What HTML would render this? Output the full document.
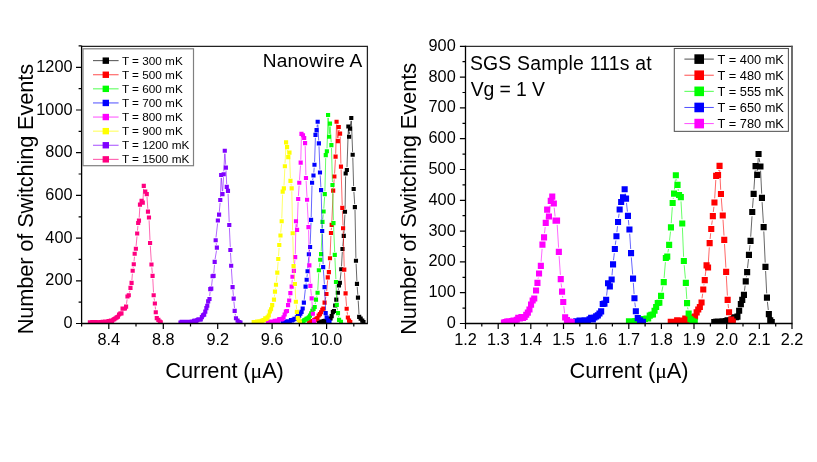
<!DOCTYPE html>
<html><head><meta charset="utf-8"><title>Switching current distributions</title>
<style>
html,body{margin:0;padding:0;background:#fff;}
body{width:817px;height:462px;position:relative;overflow:hidden;font-family:"Liberation Sans",sans-serif;}
</style></head><body>
<svg width="817" height="462" viewBox="0 0 817 462" style="position:absolute;left:0;top:0;will-change:transform;font-family:'Liberation Sans',sans-serif">
<rect width="817" height="462" fill="#fff"/>
<clipPath id="cl"><rect x="81.6" y="46.3" width="285.79999999999995" height="277.7"/></clipPath>
<clipPath id="cr"><rect x="465.5" y="46.3" width="326.5" height="277.7"/></clipPath>
<g clip-path="url(#cl)">
<path d="M337.0 296.8L337.2 295.6M338.3 289.9L338.6 288.3M340.2 279.9L341.0 272.2M341.5 266.4L342.3 251.9M342.8 246.1L343.5 238.8M343.9 233.0L344.9 214.7M345.1 208.9L345.6 176.4M347.0 167.1L348.3 129.4M348.6 129.4L348.9 133.9M349.5 133.9L349.7 131.6M350.4 125.8L351.0 120.9M351.4 120.9L352.6 151.9M352.8 157.7L353.6 186.1M353.9 191.9L354.7 204.2M355.0 210.0L355.9 257.9M356.1 263.7L356.9 281.0M357.2 286.8L357.8 294.8M358.2 300.6L359.0 314.0" fill="none" stroke="#000000" stroke-width="0.6"/>
<path d="M317.0 320.3h4.15v4.15h-4.15zM318.2 320.3h4.15v4.15h-4.15zM319.3 319.6h4.15v4.15h-4.15zM320.5 319.4h4.15v4.15h-4.15zM321.6 319.0h4.15v4.15h-4.15zM322.8 318.8h4.15v4.15h-4.15zM323.9 318.8h4.15v4.15h-4.15zM325.1 317.9h4.15v4.15h-4.15zM326.2 317.7h4.15v4.15h-4.15zM327.3 316.8h4.15v4.15h-4.15zM328.5 316.4h4.15v4.15h-4.15zM329.6 314.1h4.15v4.15h-4.15zM330.8 310.0h4.15v4.15h-4.15zM331.9 308.9h4.15v4.15h-4.15zM333.1 303.4h4.15v4.15h-4.15zM334.2 297.5h4.15v4.15h-4.15zM335.8 290.7h4.15v4.15h-4.15zM336.9 283.3h4.15v4.15h-4.15zM337.8 280.7h4.15v4.15h-4.15zM339.2 267.2h4.15v4.15h-4.15zM340.4 246.9h4.15v4.15h-4.15zM341.7 233.8h4.15v4.15h-4.15zM342.9 209.7h4.15v4.15h-4.15zM343.6 171.4h4.15v4.15h-4.15zM344.8 167.9h4.15v4.15h-4.15zM346.3 124.4h4.15v4.15h-4.15zM347.0 134.7h4.15v4.15h-4.15zM348.0 126.6h4.15v4.15h-4.15zM349.2 115.9h4.15v4.15h-4.15zM350.6 152.7h4.15v4.15h-4.15zM351.6 186.9h4.15v4.15h-4.15zM352.8 205.0h4.15v4.15h-4.15zM353.9 258.7h4.15v4.15h-4.15zM354.9 281.8h4.15v4.15h-4.15zM355.9 295.6h4.15v4.15h-4.15zM357.1 314.8h4.15v4.15h-4.15zM358.6 316.6h4.15v4.15h-4.15zM360.2 318.5h4.15v4.15h-4.15zM361.4 319.9h4.15v4.15h-4.15z" fill="#000000"/>
<path d="M325.2 299.9L325.9 296.8M326.7 291.1L327.6 280.3M329.1 269.3L329.8 261.2M330.1 255.4L330.9 235.9M331.2 230.1L331.5 227.8M331.8 222.0L333.1 193.5M333.4 187.7L334.2 179.4M334.6 173.6L335.4 159.6M335.7 153.8L336.5 124.7M336.8 124.7L337.7 138.3M338.1 138.3L338.6 129.9M339.4 129.8L339.5 130.8M340.2 136.5L340.9 163.7M341.1 169.5L342.2 205.0M342.4 210.8L343.0 225.4M343.2 231.2L344.2 266.7M344.5 272.5L345.4 290.5M345.8 296.3L346.5 305.9M347.1 311.7L347.5 314.6" fill="none" stroke="#ff0000" stroke-width="0.6"/>
<path d="M307.1 320.7h4.15v4.15h-4.15zM308.3 319.6h4.15v4.15h-4.15zM309.5 319.2h4.15v4.15h-4.15zM310.7 319.0h4.15v4.15h-4.15zM311.9 318.3h4.15v4.15h-4.15zM313.0 318.1h4.15v4.15h-4.15zM314.2 316.8h4.15v4.15h-4.15zM315.4 316.0h4.15v4.15h-4.15zM316.6 313.4h4.15v4.15h-4.15zM317.8 312.1h4.15v4.15h-4.15zM319.0 310.2h4.15v4.15h-4.15zM320.2 307.7h4.15v4.15h-4.15zM321.3 306.6h4.15v4.15h-4.15zM322.5 300.6h4.15v4.15h-4.15zM324.4 291.9h4.15v4.15h-4.15zM325.7 275.3h4.15v4.15h-4.15zM326.8 270.1h4.15v4.15h-4.15zM327.9 256.2h4.15v4.15h-4.15zM328.9 230.9h4.15v4.15h-4.15zM329.6 222.8h4.15v4.15h-4.15zM331.1 188.5h4.15v4.15h-4.15zM332.3 174.4h4.15v4.15h-4.15zM333.5 154.6h4.15v4.15h-4.15zM334.5 119.7h4.15v4.15h-4.15zM335.8 139.1h4.15v4.15h-4.15zM336.7 124.9h4.15v4.15h-4.15zM338.0 131.5h4.15v4.15h-4.15zM338.9 164.5h4.15v4.15h-4.15zM340.2 205.8h4.15v4.15h-4.15zM341.0 226.2h4.15v4.15h-4.15zM342.2 267.5h4.15v4.15h-4.15zM343.5 291.3h4.15v4.15h-4.15zM344.6 306.7h4.15v4.15h-4.15zM345.8 315.4h4.15v4.15h-4.15zM347.0 318.5h4.15v4.15h-4.15zM348.2 319.9h4.15v4.15h-4.15z" fill="#ff0000"/>
<path d="M315.2 304.1L315.5 302.5M316.7 296.8L316.9 295.6M317.8 289.9L318.7 273.2M319.3 267.4L319.9 262.7M321.2 251.3L322.4 224.8M322.8 219.0L323.3 214.4M323.8 208.6L324.6 197.1M324.9 191.3L325.7 158.1M327.0 148.4L328.0 117.9M328.2 117.9L329.0 133.9M329.3 133.9L329.8 126.5M330.2 126.5L331.2 142.3M331.5 148.1L332.4 182.1M332.6 187.9L333.4 220.2M333.6 226.0L334.7 252.0M334.9 257.8L335.9 279.1M336.1 284.9L336.7 302.0M337.2 307.8L337.6 310.3M338.5 316.1L338.6 317.0" fill="none" stroke="#00ff00" stroke-width="0.6"/>
<path d="M299.7 319.8h4.15v4.15h-4.15zM300.9 319.6h4.15v4.15h-4.15zM302.1 318.3h4.15v4.15h-4.15zM303.2 317.7h4.15v4.15h-4.15zM304.4 316.8h4.15v4.15h-4.15zM305.6 316.2h4.15v4.15h-4.15zM306.8 315.3h4.15v4.15h-4.15zM307.9 313.6h4.15v4.15h-4.15zM309.1 311.3h4.15v4.15h-4.15zM310.3 308.7h4.15v4.15h-4.15zM311.5 306.8h4.15v4.15h-4.15zM312.6 304.9h4.15v4.15h-4.15zM313.9 297.5h4.15v4.15h-4.15zM315.5 290.7h4.15v4.15h-4.15zM316.8 268.2h4.15v4.15h-4.15zM318.2 257.7h4.15v4.15h-4.15zM319.0 252.1h4.15v4.15h-4.15zM320.4 219.8h4.15v4.15h-4.15zM321.5 209.4h4.15v4.15h-4.15zM322.7 192.1h4.15v4.15h-4.15zM323.7 153.1h4.15v4.15h-4.15zM324.8 149.2h4.15v4.15h-4.15zM326.0 112.9h4.15v4.15h-4.15zM327.0 134.7h4.15v4.15h-4.15zM327.9 121.5h4.15v4.15h-4.15zM329.3 143.1h4.15v4.15h-4.15zM330.4 182.9h4.15v4.15h-4.15zM331.4 221.0h4.15v4.15h-4.15zM332.7 252.8h4.15v4.15h-4.15zM333.9 279.9h4.15v4.15h-4.15zM334.7 302.8h4.15v4.15h-4.15zM335.9 311.1h4.15v4.15h-4.15zM337.0 317.8h4.15v4.15h-4.15zM338.9 319.7h4.15v4.15h-4.15z" fill="#00ff00"/>
<path d="M304.2 299.8L305.3 289.5M306.1 283.7L306.2 282.7M307.0 276.9L307.3 274.2M307.8 268.4L308.7 257.2M309.4 251.4L309.6 249.9M310.2 244.1L311.0 222.8M311.2 217.0L312.0 185.7M312.6 180.0L313.0 178.3M313.8 172.6L314.2 167.7M314.6 161.9L315.4 137.8M317.0 127.3L317.3 124.7M317.9 124.7L318.7 140.5M319.0 146.3L319.9 169.6M320.2 175.4L320.9 187.3M321.2 193.1L322.1 228.1M322.3 233.9L323.1 264.2M323.4 270.0L324.4 284.3M324.7 290.1L325.6 310.3" fill="none" stroke="#0000ff" stroke-width="0.6"/>
<path d="M280.6 320.7h4.15v4.15h-4.15zM281.8 320.0h4.15v4.15h-4.15zM283.0 320.0h4.15v4.15h-4.15zM284.2 320.0h4.15v4.15h-4.15zM285.3 319.2h4.15v4.15h-4.15zM286.5 319.4h4.15v4.15h-4.15zM287.7 319.4h4.15v4.15h-4.15zM288.9 317.9h4.15v4.15h-4.15zM290.0 318.3h4.15v4.15h-4.15zM291.2 317.7h4.15v4.15h-4.15zM292.4 316.8h4.15v4.15h-4.15zM293.6 316.8h4.15v4.15h-4.15zM294.8 315.3h4.15v4.15h-4.15zM295.9 313.2h4.15v4.15h-4.15zM297.1 313.6h4.15v4.15h-4.15zM298.3 311.5h4.15v4.15h-4.15zM299.5 309.8h4.15v4.15h-4.15zM300.6 306.4h4.15v4.15h-4.15zM301.8 300.6h4.15v4.15h-4.15zM303.5 284.5h4.15v4.15h-4.15zM304.6 277.7h4.15v4.15h-4.15zM305.5 269.2h4.15v4.15h-4.15zM306.8 252.2h4.15v4.15h-4.15zM308.0 244.9h4.15v4.15h-4.15zM309.0 217.8h4.15v4.15h-4.15zM310.0 180.7h4.15v4.15h-4.15zM311.4 173.4h4.15v4.15h-4.15zM312.4 162.7h4.15v4.15h-4.15zM313.4 132.8h4.15v4.15h-4.15zM314.5 128.1h4.15v4.15h-4.15zM315.6 119.7h4.15v4.15h-4.15zM316.8 141.3h4.15v4.15h-4.15zM317.9 170.4h4.15v4.15h-4.15zM319.0 188.1h4.15v4.15h-4.15zM320.1 228.9h4.15v4.15h-4.15zM321.1 265.0h4.15v4.15h-4.15zM322.5 285.1h4.15v4.15h-4.15zM323.6 311.1h4.15v4.15h-4.15zM324.6 315.4h4.15v4.15h-4.15zM326.2 318.5h4.15v4.15h-4.15zM327.4 319.9h4.15v4.15h-4.15z" fill="#0000ff"/>
<path d="M289.7 297.6L289.9 296.0M291.0 290.3L291.1 289.4M291.9 283.7L292.3 279.7M294.2 268.0L294.9 260.0M295.3 254.2L295.9 224.2M296.4 224.2L296.7 227.0M297.2 227.0L298.1 201.9M298.4 196.1L299.1 185.7M299.5 179.9L300.5 165.6M300.8 159.8L301.4 136.8M305.2 146.1L305.9 175.1M306.1 180.9L307.0 196.9M307.2 202.7L308.4 224.3M308.6 230.1L309.3 262.5M309.5 268.3L310.3 283.0M310.7 288.8L311.4 295.5M311.9 301.3L312.7 310.9M313.4 316.7L313.6 318.3" fill="none" stroke="#ff00ff" stroke-width="0.6"/>
<path d="M265.8 320.5h4.15v4.15h-4.15zM266.9 320.3h4.15v4.15h-4.15zM268.1 319.6h4.15v4.15h-4.15zM269.2 320.0h4.15v4.15h-4.15zM270.3 319.4h4.15v4.15h-4.15zM271.4 319.4h4.15v4.15h-4.15zM272.6 318.8h4.15v4.15h-4.15zM273.7 318.8h4.15v4.15h-4.15zM274.8 318.5h4.15v4.15h-4.15zM275.9 319.0h4.15v4.15h-4.15zM277.0 317.3h4.15v4.15h-4.15zM278.2 317.1h4.15v4.15h-4.15zM279.3 317.3h4.15v4.15h-4.15zM280.4 316.8h4.15v4.15h-4.15zM281.5 315.3h4.15v4.15h-4.15zM282.6 312.4h4.15v4.15h-4.15zM283.8 309.4h4.15v4.15h-4.15zM284.9 308.9h4.15v4.15h-4.15zM286.0 303.0h4.15v4.15h-4.15zM287.1 298.4h4.15v4.15h-4.15zM288.3 291.0h4.15v4.15h-4.15zM289.6 284.5h4.15v4.15h-4.15zM290.4 274.7h4.15v4.15h-4.15zM291.8 268.8h4.15v4.15h-4.15zM293.1 255.0h4.15v4.15h-4.15zM293.9 219.2h4.15v4.15h-4.15zM295.0 227.8h4.15v4.15h-4.15zM296.1 196.9h4.15v4.15h-4.15zM297.2 180.7h4.15v4.15h-4.15zM298.6 160.6h4.15v4.15h-4.15zM299.4 131.8h4.15v4.15h-4.15zM300.9 133.2h4.15v4.15h-4.15zM302.1 135.9h4.15v4.15h-4.15zM303.0 141.1h4.15v4.15h-4.15zM303.9 175.9h4.15v4.15h-4.15zM305.0 197.7h4.15v4.15h-4.15zM306.4 225.1h4.15v4.15h-4.15zM307.3 263.3h4.15v4.15h-4.15zM308.3 283.8h4.15v4.15h-4.15zM309.6 296.3h4.15v4.15h-4.15zM310.8 311.7h4.15v4.15h-4.15zM312.0 319.1h4.15v4.15h-4.15z" fill="#ff00ff"/>
<path d="M274.4 296.7L274.6 294.5M275.4 288.7L275.6 287.7M276.3 281.9L277.0 275.6M277.5 269.8L278.1 261.9M278.5 256.1L279.1 247.9M279.7 242.1L280.1 238.4M280.7 232.6L281.5 224.2M281.8 218.4L282.6 194.6M284.0 185.5L284.8 169.2M285.0 163.4L286.0 145.3M287.4 150.0L288.0 154.2M289.6 155.6L290.4 178.0M291.0 183.8L291.2 185.5M291.8 191.3L292.6 230.4M292.8 236.2L293.5 263.2M293.8 269.0L294.7 281.1M295.1 286.9L295.7 298.9M296.2 304.7L296.6 309.0M297.3 314.8L297.4 315.2" fill="none" stroke="#ffff00" stroke-width="0.6"/>
<path d="M251.6 320.0h4.15v4.15h-4.15zM252.8 320.3h4.15v4.15h-4.15zM253.9 320.0h4.15v4.15h-4.15zM255.1 319.6h4.15v4.15h-4.15zM256.2 319.4h4.15v4.15h-4.15zM257.4 319.2h4.15v4.15h-4.15zM258.6 319.4h4.15v4.15h-4.15zM259.7 318.8h4.15v4.15h-4.15zM260.9 318.3h4.15v4.15h-4.15zM262.0 317.9h4.15v4.15h-4.15zM263.2 316.2h4.15v4.15h-4.15zM264.3 316.8h4.15v4.15h-4.15zM265.5 315.3h4.15v4.15h-4.15zM266.7 313.4h4.15v4.15h-4.15zM267.8 309.4h4.15v4.15h-4.15zM269.0 307.2h4.15v4.15h-4.15zM270.1 303.0h4.15v4.15h-4.15zM271.9 297.5h4.15v4.15h-4.15zM272.9 289.5h4.15v4.15h-4.15zM273.9 282.7h4.15v4.15h-4.15zM275.2 270.6h4.15v4.15h-4.15zM276.2 256.9h4.15v4.15h-4.15zM277.2 242.9h4.15v4.15h-4.15zM278.4 233.4h4.15v4.15h-4.15zM279.6 219.2h4.15v4.15h-4.15zM280.6 189.6h4.15v4.15h-4.15zM281.8 186.3h4.15v4.15h-4.15zM282.8 164.2h4.15v4.15h-4.15zM284.0 140.3h4.15v4.15h-4.15zM285.0 145.0h4.15v4.15h-4.15zM286.2 155.0h4.15v4.15h-4.15zM287.4 150.6h4.15v4.15h-4.15zM288.4 178.8h4.15v4.15h-4.15zM289.6 186.3h4.15v4.15h-4.15zM290.6 231.2h4.15v4.15h-4.15zM291.5 264.0h4.15v4.15h-4.15zM292.8 281.9h4.15v4.15h-4.15zM293.8 299.7h4.15v4.15h-4.15zM294.8 309.8h4.15v4.15h-4.15zM295.7 316.0h4.15v4.15h-4.15zM296.6 317.8h4.15v4.15h-4.15zM297.8 320.3h4.15v4.15h-4.15z" fill="#ffff00"/>
<path d="M209.7 296.1L210.1 292.0M211.6 285.8L212.3 279.2M213.8 273.0L214.5 264.8M215.1 259.0L216.5 250.6M216.4 244.8L216.2 243.2M216.0 237.4L217.6 223.4M219.3 211.8L220.1 202.9M220.4 197.1L221.1 177.9M221.4 177.9L222.3 191.2M222.7 191.2L223.5 177.2M223.8 171.4L224.7 153.7M225.0 153.7L225.7 164.7M226.0 170.5L226.7 184.0M228.1 193.8L229.2 222.1M229.4 227.9L230.3 247.1M230.5 252.9L231.1 262.9M231.4 268.7L232.4 284.2M232.9 290.0L233.4 295.8M233.9 301.6L234.5 308.0M235.2 313.8L235.5 315.4" fill="none" stroke="#8000ff" stroke-width="0.6"/>
<path d="M178.4 320.5h4.15v4.15h-4.15zM179.6 319.8h4.15v4.15h-4.15zM180.7 320.3h4.15v4.15h-4.15zM181.8 320.5h4.15v4.15h-4.15zM182.9 319.8h4.15v4.15h-4.15zM184.1 320.5h4.15v4.15h-4.15zM185.2 320.0h4.15v4.15h-4.15zM186.3 319.8h4.15v4.15h-4.15zM187.4 319.8h4.15v4.15h-4.15zM188.6 319.8h4.15v4.15h-4.15zM189.7 319.6h4.15v4.15h-4.15zM190.8 319.6h4.15v4.15h-4.15zM191.9 318.8h4.15v4.15h-4.15zM193.1 318.5h4.15v4.15h-4.15zM194.2 318.8h4.15v4.15h-4.15zM195.3 318.1h4.15v4.15h-4.15zM196.4 317.3h4.15v4.15h-4.15zM197.6 317.5h4.15v4.15h-4.15zM198.7 317.3h4.15v4.15h-4.15zM199.8 315.1h4.15v4.15h-4.15zM200.9 313.2h4.15v4.15h-4.15zM202.1 312.6h4.15v4.15h-4.15zM203.2 309.6h4.15v4.15h-4.15zM204.3 306.1h4.15v4.15h-4.15zM205.2 303.7h4.15v4.15h-4.15zM206.1 299.3h4.15v4.15h-4.15zM207.4 296.9h4.15v4.15h-4.15zM208.2 287.0h4.15v4.15h-4.15zM209.2 286.6h4.15v4.15h-4.15zM210.5 274.2h4.15v4.15h-4.15zM211.5 273.8h4.15v4.15h-4.15zM212.6 259.8h4.15v4.15h-4.15zM214.8 245.6h4.15v4.15h-4.15zM213.6 238.2h4.15v4.15h-4.15zM215.8 218.4h4.15v4.15h-4.15zM217.0 212.6h4.15v4.15h-4.15zM218.2 197.9h4.15v4.15h-4.15zM219.1 172.9h4.15v4.15h-4.15zM220.4 192.0h4.15v4.15h-4.15zM221.6 172.2h4.15v4.15h-4.15zM222.7 148.7h4.15v4.15h-4.15zM223.8 165.5h4.15v4.15h-4.15zM224.7 184.8h4.15v4.15h-4.15zM225.9 188.8h4.15v4.15h-4.15zM227.2 222.9h4.15v4.15h-4.15zM228.3 247.9h4.15v4.15h-4.15zM229.1 263.7h4.15v4.15h-4.15zM230.5 285.0h4.15v4.15h-4.15zM231.6 296.6h4.15v4.15h-4.15zM232.6 308.8h4.15v4.15h-4.15zM233.9 316.2h4.15v4.15h-4.15zM235.5 318.5h4.15v4.15h-4.15zM237.2 319.9h4.15v4.15h-4.15zM238.4 320.4h4.15v4.15h-4.15z" fill="#8000ff"/>
<path d="M126.5 303.8L127.1 299.4M129.4 292.5L129.9 290.7M131.9 280.0L132.4 273.7M133.2 267.9L133.3 267.2M134.0 261.4L134.5 256.7M136.1 245.9L137.0 236.4M137.5 230.6L137.9 225.9M139.2 217.7L139.8 207.5M143.0 199.8L143.6 188.8M147.0 197.0L147.8 208.8M149.1 220.4L150.0 240.1M150.3 245.9L151.3 261.6M151.8 267.4L152.3 273.0M152.8 278.8L153.5 292.4M154.1 298.2L154.5 300.6M155.2 306.4L155.5 309.4" fill="none" stroke="#ff0080" stroke-width="0.6"/>
<path d="M87.8 320.3h4.15v4.15h-4.15zM89.0 320.7h4.15v4.15h-4.15zM90.2 320.0h4.15v4.15h-4.15zM91.3 320.5h4.15v4.15h-4.15zM92.5 320.0h4.15v4.15h-4.15zM93.7 320.0h4.15v4.15h-4.15zM94.8 320.5h4.15v4.15h-4.15zM96.0 320.5h4.15v4.15h-4.15zM97.2 320.3h4.15v4.15h-4.15zM98.3 320.0h4.15v4.15h-4.15zM99.5 320.0h4.15v4.15h-4.15zM100.7 319.8h4.15v4.15h-4.15zM101.8 320.0h4.15v4.15h-4.15zM103.0 319.6h4.15v4.15h-4.15zM104.2 319.4h4.15v4.15h-4.15zM105.3 319.4h4.15v4.15h-4.15zM106.5 319.0h4.15v4.15h-4.15zM107.7 319.0h4.15v4.15h-4.15zM108.8 318.5h4.15v4.15h-4.15zM110.0 318.8h4.15v4.15h-4.15zM111.2 317.7h4.15v4.15h-4.15zM112.3 317.1h4.15v4.15h-4.15zM113.5 316.2h4.15v4.15h-4.15zM114.7 315.3h4.15v4.15h-4.15zM115.9 314.7h4.15v4.15h-4.15zM117.0 312.4h4.15v4.15h-4.15zM118.2 311.5h4.15v4.15h-4.15zM119.4 311.3h4.15v4.15h-4.15zM120.5 306.6h4.15v4.15h-4.15zM121.7 306.6h4.15v4.15h-4.15zM122.9 306.4h4.15v4.15h-4.15zM124.0 304.6h4.15v4.15h-4.15zM125.4 294.4h4.15v4.15h-4.15zM126.7 293.2h4.15v4.15h-4.15zM128.4 285.8h4.15v4.15h-4.15zM129.5 280.8h4.15v4.15h-4.15zM130.6 268.7h4.15v4.15h-4.15zM131.7 262.2h4.15v4.15h-4.15zM132.6 251.7h4.15v4.15h-4.15zM133.8 246.7h4.15v4.15h-4.15zM135.1 231.4h4.15v4.15h-4.15zM136.1 220.9h4.15v4.15h-4.15zM136.9 218.5h4.15v4.15h-4.15zM137.9 202.5h4.15v4.15h-4.15zM139.5 198.8h4.15v4.15h-4.15zM140.7 200.6h4.15v4.15h-4.15zM141.7 183.8h4.15v4.15h-4.15zM143.2 189.5h4.15v4.15h-4.15zM144.7 192.0h4.15v4.15h-4.15zM145.9 209.6h4.15v4.15h-4.15zM146.9 215.4h4.15v4.15h-4.15zM148.0 240.9h4.15v4.15h-4.15zM149.4 262.4h4.15v4.15h-4.15zM150.5 273.8h4.15v4.15h-4.15zM151.6 293.2h4.15v4.15h-4.15zM152.8 301.4h4.15v4.15h-4.15zM153.7 310.2h4.15v4.15h-4.15zM154.7 316.0h4.15v4.15h-4.15zM156.3 317.8h4.15v4.15h-4.15zM157.7 319.4h4.15v4.15h-4.15zM158.7 320.3h4.15v4.15h-4.15z" fill="#ff0080"/>
</g>
<g clip-path="url(#cr)">
<path d="M744.5 290.7L745.1 285.6M746.3 277.2L746.5 276.4M747.5 268.0L748.5 259.1M749.4 250.7L750.0 245.1M750.7 236.7L752.0 216.3M752.5 207.9L753.3 198.0M753.9 189.6L755.2 170.4M756.3 170.3L756.4 170.8M757.5 170.7L758.2 158.2M759.1 158.2L759.8 162.3M760.6 170.7L761.7 193.7M762.1 202.1L763.4 223.0M763.8 231.4L765.2 262.6M765.6 271.0L766.7 293.4M767.4 301.8L768.3 310.0" fill="none" stroke="#000000" stroke-width="0.6"/>
<path d="M711.2 319.1h6.1v6.1h-6.1zM712.9 318.8h6.1v6.1h-6.1zM714.6 318.5h6.1v6.1h-6.1zM716.2 318.8h6.1v6.1h-6.1zM717.9 318.5h6.1v6.1h-6.1zM719.5 318.2h6.1v6.1h-6.1zM721.2 319.1h6.1v6.1h-6.1zM722.8 317.9h6.1v6.1h-6.1zM724.5 317.3h6.1v6.1h-6.1zM726.2 317.3h6.1v6.1h-6.1zM727.8 317.0h6.1v6.1h-6.1zM729.5 316.3h6.1v6.1h-6.1zM731.1 314.2h6.1v6.1h-6.1zM732.8 314.2h6.1v6.1h-6.1zM734.4 313.6h6.1v6.1h-6.1zM736.1 307.7h6.1v6.1h-6.1zM737.8 301.1h6.1v6.1h-6.1zM739.2 296.8h6.1v6.1h-6.1zM740.9 291.8h6.1v6.1h-6.1zM742.7 278.3h6.1v6.1h-6.1zM744.1 269.1h6.1v6.1h-6.1zM745.9 251.8h6.1v6.1h-6.1zM747.5 237.8h6.1v6.1h-6.1zM749.2 209.0h6.1v6.1h-6.1zM750.6 190.8h6.1v6.1h-6.1zM752.5 163.1h6.1v6.1h-6.1zM754.2 171.8h6.1v6.1h-6.1zM755.5 150.9h6.1v6.1h-6.1zM757.4 163.4h6.1v6.1h-6.1zM758.9 194.8h6.1v6.1h-6.1zM760.6 224.1h6.1v6.1h-6.1zM762.4 263.8h6.1v6.1h-6.1zM763.9 294.6h6.1v6.1h-6.1zM765.8 311.1h6.1v6.1h-6.1zM767.2 317.3h6.1v6.1h-6.1zM768.7 319.1h6.1v6.1h-6.1z" fill="#000000"/>
<path d="M702.0 298.3L702.7 293.7M703.9 285.4L704.0 284.3M705.2 276.0L706.0 269.6M708.3 263.3L709.3 247.4M710.1 239.0L710.7 233.2M711.7 224.8L712.3 220.4M713.3 212.0L713.9 206.8M714.7 198.4L715.8 180.0M718.7 171.0L718.8 169.9M719.7 170.0L720.7 189.8M721.3 198.2L722.3 211.3M723.0 219.7L724.0 235.6M724.5 244.0L725.9 267.6M726.3 276.0L727.4 295.6M728.1 304.0L728.5 308.1" fill="none" stroke="#ff0000" stroke-width="0.6"/>
<path d="M667.7 318.8h6.1v6.1h-6.1zM669.3 318.8h6.1v6.1h-6.1zM670.9 318.8h6.1v6.1h-6.1zM672.5 318.8h6.1v6.1h-6.1zM674.1 317.3h6.1v6.1h-6.1zM675.8 317.6h6.1v6.1h-6.1zM677.4 317.6h6.1v6.1h-6.1zM679.0 317.6h6.1v6.1h-6.1zM680.6 317.6h6.1v6.1h-6.1zM682.2 315.4h6.1v6.1h-6.1zM683.9 317.0h6.1v6.1h-6.1zM685.5 315.4h6.1v6.1h-6.1zM687.1 316.0h6.1v6.1h-6.1zM688.7 314.2h6.1v6.1h-6.1zM690.3 314.8h6.1v6.1h-6.1zM692.0 313.6h6.1v6.1h-6.1zM693.6 309.3h6.1v6.1h-6.1zM695.2 306.5h6.1v6.1h-6.1zM696.8 304.0h6.1v6.1h-6.1zM698.5 299.4h6.1v6.1h-6.1zM700.2 286.4h6.1v6.1h-6.1zM701.7 277.1h6.1v6.1h-6.1zM703.5 262.3h6.1v6.1h-6.1zM705.0 264.4h6.1v6.1h-6.1zM706.6 240.1h6.1v6.1h-6.1zM708.2 225.9h6.1v6.1h-6.1zM709.8 213.1h6.1v6.1h-6.1zM711.4 199.5h6.1v6.1h-6.1zM713.1 172.8h6.1v6.1h-6.1zM715.0 172.0h6.1v6.1h-6.1zM716.5 162.8h6.1v6.1h-6.1zM717.9 190.9h6.1v6.1h-6.1zM719.7 212.4h6.1v6.1h-6.1zM721.2 236.8h6.1v6.1h-6.1zM723.1 268.8h6.1v6.1h-6.1zM724.6 296.8h6.1v6.1h-6.1zM726.0 309.2h6.1v6.1h-6.1zM728.2 316.6h6.1v6.1h-6.1zM729.7 318.6h6.1v6.1h-6.1z" fill="#ff0000"/>
<path d="M661.8 291.7L662.9 286.3M664.1 278.0L665.4 262.2M667.9 252.4L668.5 249.0M669.5 240.6L670.5 231.6M671.2 223.2L672.3 207.2M673.2 198.8L673.4 197.9M674.4 189.5L675.4 179.5M676.5 179.4L676.8 180.7M678.1 189.0L678.4 190.8M681.0 201.4L682.0 219.3M682.4 227.7L683.6 256.8M684.2 265.2L685.4 278.6M686.0 287.0L686.8 299.0M687.6 307.4L688.0 309.3" fill="none" stroke="#00ff00" stroke-width="0.6"/>
<path d="M625.9 318.2h6.1v6.1h-6.1zM627.5 318.2h6.1v6.1h-6.1zM629.1 318.8h6.1v6.1h-6.1zM630.7 318.5h6.1v6.1h-6.1zM632.3 317.9h6.1v6.1h-6.1zM633.9 319.1h6.1v6.1h-6.1zM635.5 317.0h6.1v6.1h-6.1zM637.1 317.6h6.1v6.1h-6.1zM638.7 316.3h6.1v6.1h-6.1zM640.3 316.0h6.1v6.1h-6.1zM641.9 316.0h6.1v6.1h-6.1zM643.5 315.4h6.1v6.1h-6.1zM645.1 315.4h6.1v6.1h-6.1zM646.7 312.6h6.1v6.1h-6.1zM648.3 311.7h6.1v6.1h-6.1zM649.9 311.4h6.1v6.1h-6.1zM651.5 307.7h6.1v6.1h-6.1zM653.1 304.0h6.1v6.1h-6.1zM654.7 300.0h6.1v6.1h-6.1zM656.3 299.7h6.1v6.1h-6.1zM658.0 292.8h6.1v6.1h-6.1zM660.7 279.1h6.1v6.1h-6.1zM662.8 254.9h6.1v6.1h-6.1zM664.2 253.6h6.1v6.1h-6.1zM666.1 241.8h6.1v6.1h-6.1zM667.9 224.3h6.1v6.1h-6.1zM669.6 199.9h6.1v6.1h-6.1zM671.0 190.6h6.1v6.1h-6.1zM672.8 172.2h6.1v6.1h-6.1zM674.5 181.8h6.1v6.1h-6.1zM676.0 191.9h6.1v6.1h-6.1zM677.8 194.1h6.1v6.1h-6.1zM679.2 220.4h6.1v6.1h-6.1zM680.8 257.9h6.1v6.1h-6.1zM682.8 279.8h6.1v6.1h-6.1zM684.0 300.1h6.1v6.1h-6.1zM685.6 310.4h6.1v6.1h-6.1zM687.4 316.2h6.1v6.1h-6.1zM689.2 317.8h6.1v6.1h-6.1zM691.7 318.8h6.1v6.1h-6.1z" fill="#00ff00"/>
<path d="M606.6 295.6L607.5 287.5M612.0 275.3L612.6 268.6M613.5 260.2L614.3 253.2M615.3 244.8L615.9 240.5M616.9 232.1L617.5 226.2M618.5 217.8L619.1 213.7M625.2 193.5L625.4 194.5M626.5 202.9L627.4 211.6M628.4 220.0L628.9 225.3M629.7 233.7L630.7 249.0M631.3 257.4L632.7 274.5M633.3 282.9L634.1 294.1M634.8 302.5L635.4 307.1" fill="none" stroke="#0000ff" stroke-width="0.6"/>
<path d="M569.9 319.1h6.1v6.1h-6.1zM571.5 319.1h6.1v6.1h-6.1zM573.2 318.2h6.1v6.1h-6.1zM574.8 318.2h6.1v6.1h-6.1zM576.5 317.6h6.1v6.1h-6.1zM578.2 318.2h6.1v6.1h-6.1zM579.8 318.5h6.1v6.1h-6.1zM581.5 317.3h6.1v6.1h-6.1zM583.1 318.2h6.1v6.1h-6.1zM584.8 317.6h6.1v6.1h-6.1zM586.5 316.3h6.1v6.1h-6.1zM588.1 314.8h6.1v6.1h-6.1zM589.8 316.3h6.1v6.1h-6.1zM591.4 314.5h6.1v6.1h-6.1zM593.1 313.3h6.1v6.1h-6.1zM594.8 312.3h6.1v6.1h-6.1zM596.4 310.5h6.1v6.1h-6.1zM598.1 308.3h6.1v6.1h-6.1zM599.7 300.9h6.1v6.1h-6.1zM601.4 300.6h6.1v6.1h-6.1zM603.1 296.8h6.1v6.1h-6.1zM605.0 280.2h6.1v6.1h-6.1zM606.8 283.3h6.1v6.1h-6.1zM608.6 276.4h6.1v6.1h-6.1zM610.0 261.3h6.1v6.1h-6.1zM611.8 245.9h6.1v6.1h-6.1zM613.4 233.2h6.1v6.1h-6.1zM615.0 218.9h6.1v6.1h-6.1zM616.6 206.4h6.1v6.1h-6.1zM618.1 199.0h6.1v6.1h-6.1zM620.0 194.3h6.1v6.1h-6.1zM621.6 186.2h6.1v6.1h-6.1zM623.0 195.6h6.1v6.1h-6.1zM624.9 212.8h6.1v6.1h-6.1zM626.4 226.4h6.1v6.1h-6.1zM628.0 250.1h6.1v6.1h-6.1zM630.0 275.6h6.1v6.1h-6.1zM631.4 295.2h6.1v6.1h-6.1zM632.8 308.2h6.1v6.1h-6.1zM634.7 315.1h6.1v6.1h-6.1zM637.0 317.3h6.1v6.1h-6.1zM639.9 318.8h6.1v6.1h-6.1z" fill="#0000ff"/>
<path d="M538.1 278.7L538.3 277.6M541.1 261.7L542.1 248.9M544.5 233.2L545.2 227.1M546.1 218.7L546.7 213.9M549.4 212.4L550.2 205.0M554.2 207.7L555.1 216.5M557.2 224.9L558.6 247.7M559.1 256.1L560.4 274.9M561.1 283.3L561.6 287.5M562.5 295.9L562.8 297.8M563.8 306.2L564.6 313.2" fill="none" stroke="#ff00ff" stroke-width="0.6"/>
<path d="M500.9 319.4h6.1v6.1h-6.1zM502.5 319.1h6.1v6.1h-6.1zM504.1 318.5h6.1v6.1h-6.1zM505.7 318.2h6.1v6.1h-6.1zM507.3 318.5h6.1v6.1h-6.1zM508.9 317.9h6.1v6.1h-6.1zM510.5 317.6h6.1v6.1h-6.1zM512.1 317.9h6.1v6.1h-6.1zM513.7 316.7h6.1v6.1h-6.1zM515.2 314.8h6.1v6.1h-6.1zM516.8 315.4h6.1v6.1h-6.1zM518.4 313.9h6.1v6.1h-6.1zM520.0 314.8h6.1v6.1h-6.1zM521.6 313.9h6.1v6.1h-6.1zM523.2 311.7h6.1v6.1h-6.1zM524.8 309.6h6.1v6.1h-6.1zM526.4 306.5h6.1v6.1h-6.1zM528.0 301.6h6.1v6.1h-6.1zM529.6 297.4h6.1v6.1h-6.1zM531.2 295.4h6.1v6.1h-6.1zM533.0 287.4h6.1v6.1h-6.1zM534.4 279.8h6.1v6.1h-6.1zM536.0 270.4h6.1v6.1h-6.1zM537.8 262.8h6.1v6.1h-6.1zM539.4 241.6h6.1v6.1h-6.1zM541.0 234.3h6.1v6.1h-6.1zM542.7 219.8h6.1v6.1h-6.1zM544.1 206.6h6.1v6.1h-6.1zM545.9 213.5h6.1v6.1h-6.1zM547.7 197.8h6.1v6.1h-6.1zM549.2 193.6h6.1v6.1h-6.1zM550.8 200.4h6.1v6.1h-6.1zM552.5 217.6h6.1v6.1h-6.1zM554.0 217.6h6.1v6.1h-6.1zM555.8 248.8h6.1v6.1h-6.1zM557.7 276.1h6.1v6.1h-6.1zM559.0 288.6h6.1v6.1h-6.1zM560.2 298.9h6.1v6.1h-6.1zM562.1 314.3h6.1v6.1h-6.1zM563.9 317.1h6.1v6.1h-6.1zM566.5 318.6h6.1v6.1h-6.1zM568.7 319.1h6.1v6.1h-6.1z" fill="#ff00ff"/>
</g>
<path d="M81.6 46.3H367.4V323.5" fill="none" stroke="#222" stroke-width="1.25"/>
<path d="M465.5 46.3H792.6" fill="none" stroke="#303030" stroke-width="1.25"/>
<path d="M792 45.7V323.5" fill="none" stroke="#555" stroke-width="1.7"/>
<path d="M81.6 45.7V323.5H367.9" fill="none" stroke="#000" stroke-width="1.3"/>
<path d="M465.5 45.7V323.5H792.5" fill="none" stroke="#000" stroke-width="1.3"/>
<path d="M81.6 323.5h-5.6M81.6 302.1h-3M81.6 280.8h-5.6M81.6 259.4h-3M81.6 238.1h-5.6M81.6 216.8h-3M81.6 195.4h-5.6M81.6 174.0h-3M81.6 152.7h-5.6M81.6 131.3h-3M81.6 110.0h-5.6M81.6 88.6h-3M81.6 67.3h-5.6M81.6 45.9h-3M81.6 323.5v3M108.8 323.5v5.6M136.0 323.5v3M163.3 323.5v5.6M190.5 323.5v3M217.7 323.5v5.6M244.9 323.5v3M272.1 323.5v5.6M299.4 323.5v3M326.6 323.5v5.6M353.8 323.5v3M465.5 323.5h-5.6M465.5 308.1h-3M465.5 292.7h-5.6M465.5 277.3h-3M465.5 261.9h-5.6M465.5 246.5h-3M465.5 231.1h-5.6M465.5 215.7h-3M465.5 200.3h-5.6M465.5 184.9h-3M465.5 169.5h-5.6M465.5 154.1h-3M465.5 138.7h-5.6M465.5 123.3h-3M465.5 107.9h-5.6M465.5 92.5h-3M465.5 77.1h-5.6M465.5 61.7h-3M465.5 46.3h-5.6M465.5 323.5v5.6M481.8 323.5v3M498.2 323.5v5.6M514.5 323.5v3M530.8 323.5v5.6M547.1 323.5v3M563.5 323.5v5.6M579.8 323.5v3M596.1 323.5v5.6M612.4 323.5v3M628.8 323.5v5.6M645.1 323.5v3M661.4 323.5v5.6M677.7 323.5v3M694.0 323.5v5.6M710.4 323.5v3M726.7 323.5v5.6M743.0 323.5v3M759.3 323.5v5.6M775.7 323.5v3M792.0 323.5v5.6" stroke="#000" stroke-width="1.2" fill="none"/>
<g font-size="16.3px" fill="#000">
<text x="72.5" y="328.0" text-anchor="end">0</text>
<text x="72.5" y="285.3" text-anchor="end">200</text>
<text x="72.5" y="242.6" text-anchor="end">400</text>
<text x="72.5" y="199.9" text-anchor="end">600</text>
<text x="72.5" y="157.2" text-anchor="end">800</text>
<text x="72.5" y="114.5" text-anchor="end">1000</text>
<text x="72.5" y="71.8" text-anchor="end">1200</text>
<text x="108.8" y="344.8" text-anchor="middle">8.4</text>
<text x="163.3" y="344.8" text-anchor="middle">8.8</text>
<text x="217.7" y="344.8" text-anchor="middle">9.2</text>
<text x="272.1" y="344.8" text-anchor="middle">9.6</text>
<text x="326.6" y="344.8" text-anchor="middle">10.0</text>
<text x="455.7" y="328.0" text-anchor="end">0</text>
<text x="455.7" y="297.2" text-anchor="end">100</text>
<text x="455.7" y="266.4" text-anchor="end">200</text>
<text x="455.7" y="235.6" text-anchor="end">300</text>
<text x="455.7" y="204.8" text-anchor="end">400</text>
<text x="455.7" y="174.0" text-anchor="end">500</text>
<text x="455.7" y="143.2" text-anchor="end">600</text>
<text x="455.7" y="112.4" text-anchor="end">700</text>
<text x="455.7" y="81.6" text-anchor="end">800</text>
<text x="455.7" y="50.8" text-anchor="end">900</text>
<text x="465.5" y="344.8" text-anchor="middle">1.2</text>
<text x="498.2" y="344.8" text-anchor="middle">1.3</text>
<text x="530.8" y="344.8" text-anchor="middle">1.4</text>
<text x="563.5" y="344.8" text-anchor="middle">1.5</text>
<text x="596.1" y="344.8" text-anchor="middle">1.6</text>
<text x="628.8" y="344.8" text-anchor="middle">1.7</text>
<text x="661.4" y="344.8" text-anchor="middle">1.8</text>
<text x="694.0" y="344.8" text-anchor="middle">1.9</text>
<text x="726.7" y="344.8" text-anchor="middle">2.0</text>
<text x="759.3" y="344.8" text-anchor="middle">2.1</text>
<text x="792.0" y="344.8" text-anchor="middle">2.2</text>
</g>
<g font-size="21.8px" fill="#000">
<text x="165.31" y="377.6" textLength="118.54" lengthAdjust="spacing">Current (<tspan font-family="'Liberation Serif',serif">μ</tspan>A)</text>
<text x="569.51" y="377.6" textLength="119.04" lengthAdjust="spacing">Current (<tspan font-family="'Liberation Serif',serif">μ</tspan>A)</text>
</g>
<g font-size="21.8px" fill="#000">
<text transform="translate(33.3 332.50) rotate(-90)" x="-1.79" y="0" textLength="270.37" lengthAdjust="spacing">Number of Switching Events</text>
<text transform="translate(416.2 333.00) rotate(-90)" x="-1.79" y="0" textLength="271.87" lengthAdjust="spacing">Number of Switching Events</text>
</g>
<g font-size="19.1px" fill="#000">
<text x="262.63" y="66.75" textLength="99.70" lengthAdjust="spacing">Nanowire A</text>
</g>
<g font-size="19.4px" fill="#000">
<text x="469.93" y="70.1" textLength="181.71" lengthAdjust="spacing">SGS Sample 111s at</text>
<text x="470.72" y="95.8" textLength="74.16" lengthAdjust="spacing">Vg = 1 V</text>
</g>
<rect x="83" y="48.8" width="110.5" height="116.9" fill="#fff" stroke="#808080" stroke-width="1.2"/>
<g font-size="11.75px" fill="#000">
<path d="M93 60.65H118.6" stroke="#000000" stroke-width="0.7"/>
<rect x="102.60" y="57.45" width="6.4" height="6.4" fill="#000000"/>
<text x="121.9" y="64.65">T = 300 mK</text>
<path d="M93 74.75H118.6" stroke="#ff0000" stroke-width="0.7"/>
<rect x="102.60" y="71.55" width="6.4" height="6.4" fill="#ff0000"/>
<text x="121.9" y="78.75">T = 500 mK</text>
<path d="M93 88.85H118.6" stroke="#00ff00" stroke-width="0.7"/>
<rect x="102.60" y="85.65" width="6.4" height="6.4" fill="#00ff00"/>
<text x="121.9" y="92.85">T = 600 mK</text>
<path d="M93 102.95H118.6" stroke="#0000ff" stroke-width="0.7"/>
<rect x="102.60" y="99.75" width="6.4" height="6.4" fill="#0000ff"/>
<text x="121.9" y="106.95">T = 700 mK</text>
<path d="M93 117.05H118.6" stroke="#ff00ff" stroke-width="0.7"/>
<rect x="102.60" y="113.85" width="6.4" height="6.4" fill="#ff00ff"/>
<text x="121.9" y="121.05">T = 800 mK</text>
<path d="M93 131.15H118.6" stroke="#ffff00" stroke-width="0.7"/>
<rect x="102.60" y="127.95" width="6.4" height="6.4" fill="#ffff00"/>
<text x="121.9" y="135.15">T = 900 mK</text>
<path d="M93 145.25H118.6" stroke="#8000ff" stroke-width="0.7"/>
<rect x="102.60" y="142.05" width="6.4" height="6.4" fill="#8000ff"/>
<text x="121.9" y="149.25">T = 1200 mK</text>
<path d="M93 159.35H118.6" stroke="#ff0080" stroke-width="0.7"/>
<rect x="102.60" y="156.15" width="6.4" height="6.4" fill="#ff0080"/>
<text x="121.9" y="163.35">T = 1500 mK</text>
</g>
<rect x="674.3" y="48.5" width="114.1" height="82.85" fill="#fff" stroke="#555" stroke-width="1.05"/>
<g font-size="12.8px" fill="#000">
<path d="M684.4 59.10H713.8" stroke="#000000" stroke-width="0.7"/>
<rect x="694.40" y="54.30" width="9.6" height="9.6" fill="#000000"/>
<text x="717.6" y="63.60">T = 400 mK</text>
<path d="M684.4 75.22H713.8" stroke="#ff0000" stroke-width="0.7"/>
<rect x="694.40" y="70.42" width="9.6" height="9.6" fill="#ff0000"/>
<text x="717.6" y="79.72">T = 480 mK</text>
<path d="M684.4 91.34H713.8" stroke="#00ff00" stroke-width="0.7"/>
<rect x="694.40" y="86.54" width="9.6" height="9.6" fill="#00ff00"/>
<text x="717.6" y="95.84">T = 555 mK</text>
<path d="M684.4 107.46H713.8" stroke="#0000ff" stroke-width="0.7"/>
<rect x="694.40" y="102.66" width="9.6" height="9.6" fill="#0000ff"/>
<text x="717.6" y="111.96">T = 650 mK</text>
<path d="M684.4 123.58H713.8" stroke="#ff00ff" stroke-width="0.7"/>
<rect x="694.40" y="118.78" width="9.6" height="9.6" fill="#ff00ff"/>
<text x="717.6" y="128.08">T = 780 mK</text>
</g>
</svg>
</body></html>
